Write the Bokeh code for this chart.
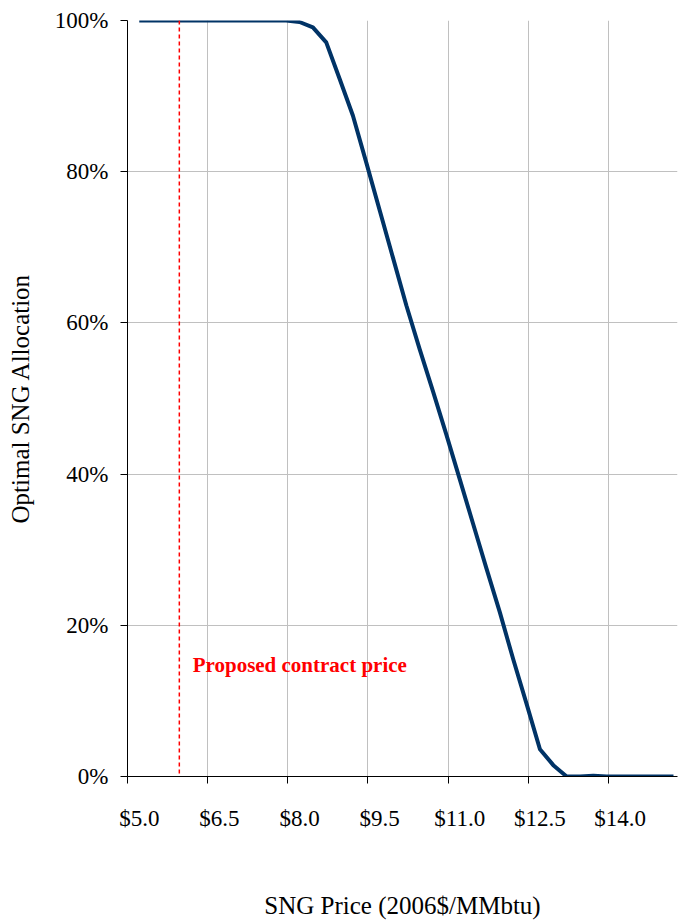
from bokeh.plotting import figure
from bokeh.models import FixedTicker, Span, Label, Range1d
from bokeh.embed import file_html
from bokeh.resources import INLINE

# ---- data ----
price = [5.0, 5.25, 5.5, 5.75, 6.0, 6.25, 6.5, 6.75, 7.0, 7.25, 7.5, 7.75,
         8.0, 8.25, 8.5, 8.75, 9.0, 9.25, 9.5, 9.75, 10.0, 10.25, 10.5, 10.75,
         11.0, 11.25, 11.5, 11.75, 12.0, 12.25, 12.5, 12.75, 13.0, 13.25, 13.5,
         13.75, 14.0, 14.25, 14.5, 14.75, 15.0]
allocation = [1.0, 1.0, 1.0, 1.0, 1.0, 1.0, 1.0, 1.0, 1.0, 1.0, 1.0, 1.0,
              0.998, 0.991, 0.971, 0.923, 0.874, 0.812, 0.749, 0.686, 0.623, 0.565, 0.509, 0.452,
              0.393, 0.334, 0.275, 0.217, 0.155, 0.096, 0.036, 0.015, 0.0, 0.0, 0.001,
              0.0, 0.0, 0.0, 0.0, 0.0, 0.0]
contract_price = 5.75
contract_label = "Proposed contract price"

x_label_values = [5.0, 6.5, 8.0, 9.5, 11.0, 12.5, 14.0]
x_tick_labels = ["$5.0", "$6.5", "$8.0", "$9.5", "$11.0", "$12.5", "$14.0"]
x_tick_marks = [4.78, 6.28, 7.78, 9.28, 10.78, 12.28, 13.78]
y_ticks = [0.0, 0.2, 0.4, 0.6, 0.8, 1.0]
y_tick_labels = ["0%", "20%", "40%", "60%", "80%", "100%"]

FONT = "Liberation Serif"

p = figure(width=678, height=922, output_backend="svg", toolbar_location=None,
           x_range=Range1d(4.78, 15.075), y_range=Range1d(0, 1),
           min_border_left=127, min_border_right=1, min_border_top=20,
           min_border_bottom=146)
p.outline_line_color = None
p.background_fill_color = "white"
p.border_fill_color = "white"

# grid
p.xgrid.ticker = FixedTicker(ticks=x_tick_marks)
p.ygrid.ticker = FixedTicker(ticks=y_ticks)
for g in (p.xgrid[0], p.ygrid[0]):
    g.grid_line_color = "#c0c0c0"
    g.grid_line_width = 1

# x axis: labels at prices, tick marks between (as minor ticks)
xa = p.xaxis[0]
xa.ticker = FixedTicker(ticks=x_label_values, minor_ticks=x_tick_marks)
xa.major_label_overrides = {v: t for v, t in zip(x_label_values, x_tick_labels)}
xa.major_tick_line_color = None
xa.major_tick_out = 0
xa.major_tick_in = 0
xa.minor_tick_line_color = "black"
xa.minor_tick_out = 7
xa.minor_tick_in = 0
xa.axis_line_color = "black"
xa.major_label_standoff = 22
xa.major_label_text_font = FONT
xa.major_label_text_font_size = "23px"
xa.major_label_text_color = "black"
xa.axis_label = "SNG Price (2006$/MMbtu)"
xa.axis_label_text_font = FONT
xa.axis_label_text_font_size = "25px"
xa.axis_label_text_font_style = "normal"
xa.axis_label_text_color = "black"
xa.axis_label_standoff = 58

# y axis
ya = p.yaxis[0]
ya.ticker = FixedTicker(ticks=y_ticks)
ya.major_label_overrides = {v: t for v, t in zip(y_ticks, y_tick_labels)}
ya.major_tick_out = 7
ya.major_tick_in = 0
ya.minor_tick_line_color = None
ya.major_label_standoff = 12
ya.major_label_text_font = FONT
ya.major_label_text_font_size = "23px"
ya.major_label_text_color = "black"
ya.axis_line_color = "black"
ya.major_tick_line_color = "black"
ya.axis_label = "Optimal SNG Allocation"
ya.axis_label_text_font = FONT
ya.axis_label_text_font_size = "25px"
ya.axis_label_text_font_style = "normal"
ya.axis_label_text_color = "black"
ya.axis_label_standoff = 18

# contract price marker
p.add_layout(Span(location=contract_price, dimension="height", line_color="red",
                  line_dash="4 3", line_width=1.5))
p.add_layout(Label(x=6.0, y=0.147, text=contract_label, text_color="red",
                   text_font=FONT, text_font_size="21px", text_font_style="bold",
                   text_baseline="middle", text_align="left"))

p.line(price, allocation, line_color="#003366", line_width=4, line_join="round")

open("out.html", "w").write(file_html(p, INLINE))
